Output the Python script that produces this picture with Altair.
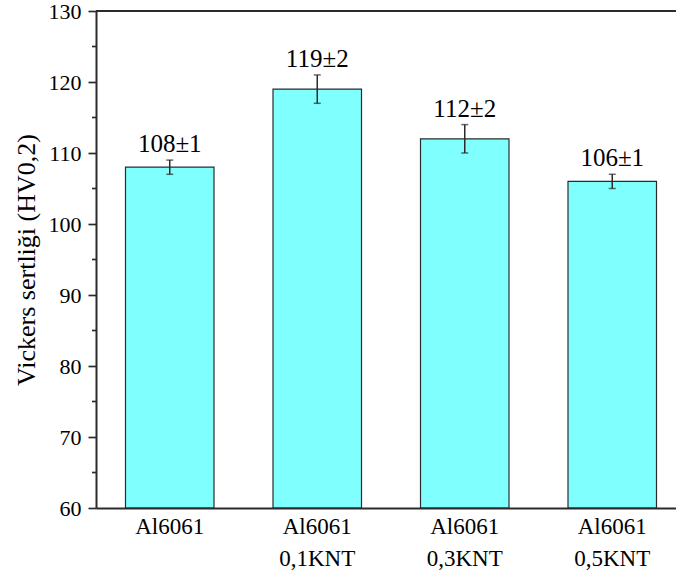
import altair as alt
import pandas as pd

categories = ["Al6061", "Al6061|0,1KNT", "Al6061|0,3KNT", "Al6061|0,5KNT"]
hardness = [108, 119, 112, 106]
errors = [1, 2, 2, 1]
major_ticks = [60, 70, 80, 90, 100, 110, 120, 130]
minor_ticks = [65, 75, 85, 95, 105, 115, 125]
y_min, y_max = 60, 130

df = pd.DataFrame({"cat": categories, "hv": hardness, "err": errors})
df["lo"] = df["hv"] - df["err"]
df["hi"] = df["hv"] + df["err"]
df["label"] = [f"{v}±{e}" for v, e in zip(hardness, errors)]

FONT = "Liberation Serif, Times New Roman, serif"
AX = "#2b2b2b"

xs = alt.Scale(domain=categories, range=[0, 590], paddingInner=0.4, paddingOuter=0.2)
ys = alt.Scale(domain=[y_min, y_max], nice=False, zero=False)

x_enc = alt.X("cat:N", scale=xs, sort=categories, axis=alt.Axis(
    title=None, labelAngle=0, ticks=False, labelPadding=7, labelFontSize=23,
    labelLineHeight=32, labelExpr="split(datum.label, '|')", labelFont=FONT,
    labelColor="black", domainColor=AX, domainWidth=2, zindex=1))

base = alt.Chart(df)

bars = base.mark_bar(fill="#80FFFF", stroke=AX, strokeWidth=1.2).encode(
    x=x_enc,
    y=alt.Y("hv:Q", scale=ys, axis=alt.Axis(
        title="Vickers sertliği (HV0,2)", values=major_ticks, tickSize=8,
        tickWidth=1.7, tickColor=AX, domainColor=AX, domainWidth=2,
        labelFontSize=22, labelFont=FONT, labelColor="black", labelPadding=7,
        titleFont=FONT, titleFontSize=26, titleFontWeight="normal",
        titleColor="black", titlePadding=9, grid=False, zindex=1)),
    y2=alt.Y2(datum=y_min),
)

rule = base.mark_rule(color=AX, strokeWidth=1.5).encode(
    x=alt.X("cat:N", scale=xs, sort=categories), y=alt.Y("lo:Q", scale=ys), y2="hi:Q")
cap_lo = base.mark_tick(color=AX, size=7, thickness=1.5, orient="horizontal").encode(
    x=alt.X("cat:N", scale=xs, sort=categories), y=alt.Y("lo:Q", scale=ys))
cap_hi = base.mark_tick(color=AX, size=7, thickness=1.5, orient="horizontal").encode(
    x=alt.X("cat:N", scale=xs, sort=categories), y=alt.Y("hi:Q", scale=ys))

labels = base.mark_text(font=FONT, fontSize=25, color="black", baseline="alphabetic", dy=-8).encode(
    x=alt.X("cat:N", scale=xs, sort=categories), y=alt.Y("hi:Q", scale=ys), text="label:N")

minor = alt.Chart(pd.DataFrame({"m": minor_ticks})).mark_rule(color=AX, strokeWidth=1.7).encode(
    y=alt.Y("m:Q", scale=ys), x=alt.value(-4), x2=alt.value(0))

top = alt.Chart(pd.DataFrame({"t": [y_max]})).mark_rule(color=AX, strokeWidth=2).encode(
    y=alt.Y("t:Q", scale=ys), x=alt.value(0), x2=alt.value(590))

chart = alt.layer(bars, rule, cap_lo, cap_hi, labels, minor, top).properties(
    width=580, height=497,
    padding={"left": 96, "top": 11, "right": 0, "bottom": 67},
    autosize="none",
).configure_view(stroke=None).configure(background="white")

chart.save("out.html", embed_options={"renderer": "svg", "actions": False})
